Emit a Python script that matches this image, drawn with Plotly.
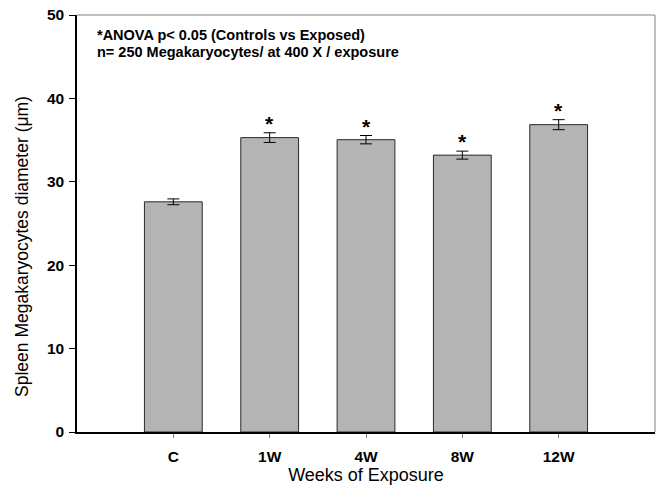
import plotly.graph_objects as go

categories = ["C", "1W", "4W", "8W", "12W"]
means = [27.6, 35.3, 35.05, 33.2, 36.85]
errors = [0.35, 0.58, 0.5, 0.48, 0.6]
significant = [False, True, True, True, True]

xpos = list(range(len(categories)))
FONT = "Liberation Sans, Arial"

fig = go.Figure()
fig.add_trace(go.Bar(
    x=xpos, y=means, width=0.6,
    marker=dict(color="#b4b4b4", line=dict(color="#2a2a2a", width=1)),
    error_y=dict(type="data", array=errors, visible=True, color="black", thickness=1, width=6),
    showlegend=False,
))

for x, m, e, s in zip(xpos, means, errors, significant):
    if s:
        fig.add_annotation(x=x, y=m + e, text="<b>*</b>", showarrow=False,
                           yanchor="bottom", yshift=-4,
                           font=dict(family=FONT, size=21, color="black"))

fig.add_annotation(xref="paper", yref="paper", x=0.031, y=0.953, xanchor="left", yanchor="middle",
                   text="<b>*ANOVA p< 0.05 (Controls vs Exposed)</b>", showarrow=False,
                   font=dict(family=FONT, size=14.5, color="black"))
fig.add_annotation(xref="paper", yref="paper", x=0.031, y=0.912, xanchor="left", yanchor="middle",
                   text="<b>n= 250 Megakaryocytes/ at 400 X / exposure</b>", showarrow=False,
                   font=dict(family=FONT, size=14.5, color="black"))

# y-axis title (slightly below center, as in reference)
fig.add_annotation(xref="paper", yref="paper", x=-0.095, y=0.444, xanchor="center", yanchor="middle",
                   text="Spleen Megakaryocytes diameter (μm)", textangle=-90, showarrow=False,
                   font=dict(family=FONT, size=17.5, color="black"))

# gray top/right frame
fig.add_shape(type="line", xref="paper", yref="paper", x0=0, x1=1, y0=1, y1=1,
              line=dict(color="#808080", width=1))
fig.add_shape(type="line", xref="paper", yref="paper", x0=1, x1=1, y0=0, y1=1,
              line=dict(color="#808080", width=1))

fig.update_layout(
    width=661, height=488,
    margin=dict(l=77, r=6, t=15, b=56),
    plot_bgcolor="white", paper_bgcolor="white",
    font=dict(family=FONT, size=14, color="black"),
    xaxis=dict(
        range=[-1, 5], tickmode="array", tickvals=xpos,
        ticktext=["<b>%s</b>" % c for c in categories],
        showline=True, linecolor="black", linewidth=1.5, showgrid=False, zeroline=False,
        ticks="outside", ticklen=4, tickcolor="#808080",
        tickfont=dict(size=15.5), ticklabelstandoff=6,
        title=dict(text="Weeks of Exposure", font=dict(size=18), standoff=0),
    ),
    yaxis=dict(
        range=[0, 50], tickvals=[0, 10, 20, 30, 40, 50],
        ticktext=["<b>%d</b>" % v for v in [0, 10, 20, 30, 40, 50]],
        showline=True, linecolor="black", linewidth=1.5, showgrid=False, zeroline=False,
        ticks="outside", ticklen=6, tickcolor="black",
        tickfont=dict(size=15.5), ticklabelstandoff=2,
    ),
    bargap=0.4,
)

fig.write_html("out.html")
